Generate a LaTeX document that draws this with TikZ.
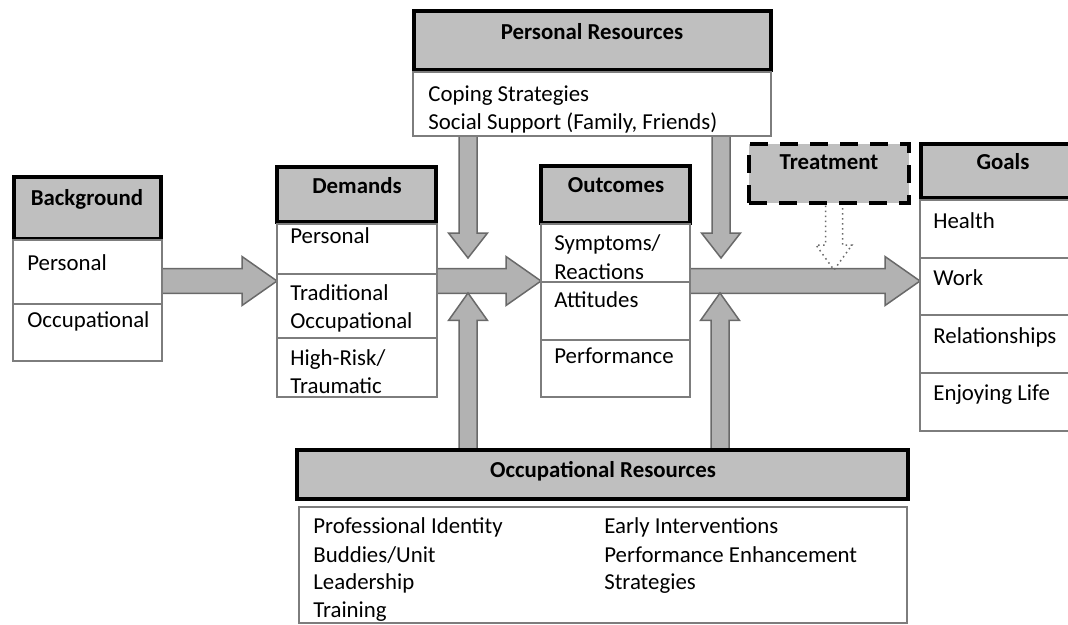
\documentclass[tikz,border=0pt]{standalone}
\usepackage{fontspec}
\setmainfont{Carlito}
\usetikzlibrary{calc,fit,backgrounds,positioning}

\definecolor{boxgray}{RGB}{191,191,191}
\definecolor{arrowgray}{RGB}{178,178,178}
\definecolor{edgegray}{RGB}{105,105,105}
\definecolor{cellgray}{RGB}{125,125,125}

\tikzset{
	hdr/.style={fill=boxgray, draw=black, line width=0.075cm, inner sep=0pt, outer sep=0pt},
	cellbox/.style={fill=white, draw=cellgray, line width=0.04cm, inner sep=0pt, outer sep=0pt},
	treatbox/.style={hdr, dash pattern=on 0.36cm off 0.24cm},
	fatarr/.style={fill=arrowgray, draw=edgegray, line width=0.03cm, line join=miter},
	dotarr/.style={draw=edgegray, line width=0.03cm, dotted},
	hdrtext/.style={font=\fontsize{13pt}{16pt}\selectfont\bfseries, inner sep=0pt, anchor=base},
	itemtext/.style={font=\fontsize{13pt}{16pt}\selectfont, inner sep=0pt, anchor=base west},
}

% block arrow: [style]{from}{to}{half shaft}{half head}{head length}
\newcommand{\fatarrow}[6][fatarr]{%
	\path #2 coordinate (fa-s) #3 coordinate (fa-e);
	\coordinate (fa-m) at ($(fa-e)!#6!(fa-s)$);
	\draw[#1] ($(fa-s)!#4!90:(fa-e)$) -- ($(fa-m)!#4!90:(fa-e)$) -- ($(fa-m)!#5!90:(fa-e)$)
		-- (fa-e) -- ($(fa-m)!#5!-90:(fa-e)$) -- ($(fa-m)!#4!-90:(fa-e)$) -- ($(fa-s)!#4!-90:(fa-e)$);}

\begin{document}
\begin{tikzpicture}[x=0.02cm, y=-0.02cm]
	\useasboundingbox (0,0) rectangle (1068,625);
	
	%background
	\node[hdr, fit={(14,177) (161,239)}] (bgh) {};
	\node[cellbox, fit={(13,240) (162,304)}] (bg1) {};
	\node[cellbox, fit={(13,304) (162,361)}] (bg2) {};
		\node[hdrtext] (bght) at (87,205) {Background};
		\node[itemtext] (bg1t) at (27,270) {Personal};
		\node[itemtext] (bg2t) at (27,327) {Occupational};
	
	%demands
	\node[hdr, fit={(277,167) (436,222)}] (demh) {};
	\node[cellbox, fit={(277,224) (437,274)}] (dem1) {};
	\node[cellbox, fit={(277,274) (437,338)}] (dem2) {};
	\node[cellbox, fit={(277,338) (437,397)}] (dem3) {};
		\node[hdrtext] (demht) at (357,193) {Demands};
		\node[itemtext] (dem1t) at (290,243) {Personal};
		\node[itemtext] (dem2t) at (290,300) {Traditional};
		\node[itemtext] (dem2u) at (290,328) {Occupational};
		\node[itemtext] (dem3t) at (290,365) {High-Risk/};
		\node[itemtext] (dem3u) at (290,393) {Traumatic};
	
	%outcomes
	\node[hdr, fit={(541,166) (690,223)}] (outh) {};
	\node[cellbox, fit={(541,224) (690,282)}] (out1) {};
	\node[cellbox, fit={(541,282) (690,340)}] (out2) {};
	\node[cellbox, fit={(541,340) (690,397)}] (out3) {};
		\node[hdrtext] (outht) at (616,192) {Outcomes};
		\node[itemtext] (out1t) at (554,250) {Symptoms/};
		\node[itemtext] (out1u) at (554,279) {Reactions};
		\node[itemtext] (out2t) at (554,307) {Attitudes};
		\node[itemtext] (out3t) at (554,363) {Performance};
	
	%personal resources
	\node[hdr, fit={(414,11) (771,70)}] (prh) {};
	\node[cellbox, fit={(413,72) (771,136)}] (prb) {};
		\node[hdrtext] (prht) at (592,40) {Personal Resources};
		\node[itemtext] (prb1) at (428,102) {Coping Strategies};
		\node[itemtext] (prb2) at (428,130) {Social Support (Family, Friends)};
	
	%treatment
	\node[treatbox, fit={(749,144) (909,203)}] (tr) {};
		\node[hdrtext] (trt) at (829,170) {Treatment};
	
	%goals
	\node[hdr, fit={(921,144) (1090,198)}] (gh) {};
	\node[cellbox, fit={(920,200) (1090,258)}] (g1) {};
	\node[cellbox, fit={(920,258) (1090,315)}] (g2) {};
	\node[cellbox, fit={(920,315) (1090,373)}] (g3) {};
	\node[cellbox, fit={(920,373) (1090,431)}] (g4) {};
		\node[hdrtext] (ght) at (1003,170) {Goals};
		\node[itemtext] (g1t) at (933,228) {Health};
		\node[itemtext] (g2t) at (933,285) {Work};
		\node[itemtext] (g3t) at (933,343) {Relationships};
		\node[itemtext] (g4t) at (933,400) {Enjoying Life};
	
	%occupational resources
	\node[hdr, fit={(297,450) (908,499)}] (orh) {};
	\node[cellbox, fit={(299,507) (907,623)}] (orb) {};
		\node[hdrtext] (orht) at (603,477) {Occupational Resources};
		\node[itemtext] (orb1) at (313,533) {Professional Identity};
		\node[itemtext] (orb2) at (313,562) {Buddies/Unit};
		\node[itemtext] (orb3) at (313,589) {Leadership};
		\node[itemtext] (orb4) at (313,617) {Training};
		\node[itemtext] (orb5) at (604,533) {Early Interventions};
		\node[itemtext] (orb6) at (604,562) {Performance Enhancement};
		\node[itemtext] (orb7) at (604,589) {Strategies};
	
	%arrow ends
	\coordinate (mainrow) at (0,281);
	\coordinate (downL) at (468,258);
	\coordinate (downR) at (721,258);
	\coordinate (upL) at (468,293);
	\coordinate (upR) at (720,293);
	\coordinate (treattip) at (834,270);
	
	%arrows
	\begin{scope}[on background layer]
		\fatarrow{(bg2.east |- mainrow)}{(dem2.west |- mainrow)}{0.25cm}{0.49cm}{0.7cm}		%bg -> demands
		\fatarrow{(dem2.east |- mainrow)}{(out1.west |- mainrow)}{0.25cm}{0.49cm}{0.7cm}	%demands -> outcomes
		\fatarrow{(out2.east |- mainrow)}{(g2.west |- mainrow)}{0.25cm}{0.49cm}{0.7cm}		%outcomes -> goals
		%
		\fatarrow{(prb.south -| downL)}{(downL)}{0.18cm}{0.39cm}{0.5cm}		%personal: left
		\fatarrow{(prb.south -| downR)}{(downR)}{0.18cm}{0.39cm}{0.5cm}		%personal: right
		\fatarrow{(orh.north -| upL)}{(upL)}{0.18cm}{0.39cm}{0.55cm}		%occupational: left
		\fatarrow{(orh.north -| upR)}{(upR)}{0.18cm}{0.39cm}{0.55cm}		%occupational: right
		%
		\fatarrow[dotarr]{(tr.south -| treattip)}{(treattip)}{0.17cm}{0.36cm}{0.5cm}	%treatment
	\end{scope}
\end{tikzpicture}
\end{document}
